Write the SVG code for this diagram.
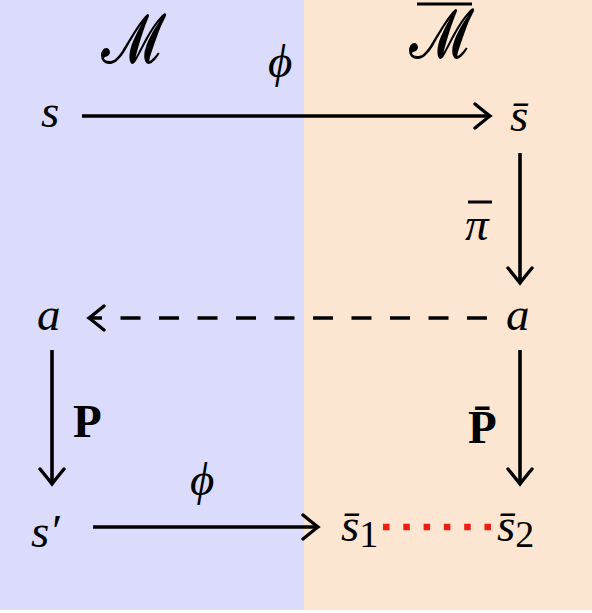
<svg xmlns="http://www.w3.org/2000/svg" width="592" height="613" viewBox="0 0 592 613">
<defs>
<style>
.m{font-family:"Liberation Serif","DejaVu Serif",serif;font-style:italic;font-size:47px;fill:#000}
.b{font-family:"Liberation Serif","DejaVu Serif",serif;font-weight:bold;font-size:47px;fill:#000}
.r{font-family:"Liberation Serif","DejaVu Serif",serif;font-size:38px;fill:#000}
.cal{font-family:"DejaVu Sans","DejaVu Serif","Noto Sans",serif;font-size:70px;fill:#000}
.ln{stroke:#000;stroke-width:3.6;fill:none}
.dash{stroke:#000;stroke-width:3.6;fill:none;stroke-dasharray:20 18.5}
.dot{stroke:#ee1f12;stroke-width:6.5;fill:none;stroke-dasharray:6.5 13.8}
.bar{stroke:#000;stroke-width:3;fill:none}
</style>
<marker id="ah" viewBox="-17 -14 20 28" refX="0" refY="0" markerUnits="userSpaceOnUse" markerWidth="20" markerHeight="28" orient="auto">
<path d="M-15 -12 Q-4 -3 0 0 Q-4 3 -15 12" fill="none" stroke="#000" stroke-width="3.4" stroke-linecap="round"/>
</marker>
</defs>
<rect x="0" y="0" width="304" height="610" fill="#dbdbfb"/>
<rect x="304" y="0" width="288" height="610" fill="#fde6d1"/>

<g id="connectors">
<path id="e-s-sbar" class="ln" d="M82 116 L490 116" marker-end="url(#ah)"/>
<path id="e-sbar-a" class="ln" d="M520 153 L520 283" marker-end="url(#ah)"/>
<path id="e-a-a" class="dash" d="M487 318 L89 318" marker-end="url(#ah)"/>
<path id="e-a-sp" class="ln" d="M52 350 L52 484" marker-end="url(#ah)"/>
<path id="e-abar-s2" class="ln" d="M520 350 L520 484" marker-end="url(#ah)"/>
<path id="e-sp-s1" class="ln" d="M93 527 L318 527" marker-end="url(#ah)"/>
<path id="e-s1-s2" class="dot" d="M383 527 L493 527"/>
</g>

<g id="label-M"><text class="cal" transform="translate(101 63) scale(0.76 1)">𝓜</text></g>
<g id="label-Mbar"><line class="bar" x1="417" y1="4" x2="472" y2="4"/><text class="cal" transform="translate(409 58) scale(0.76 1)">𝓜</text></g>

<g id="node-s"><text class="m" x="41" y="127">s</text></g>
<g id="node-sbar"><text class="m" x="510" y="131">s̄</text></g>
<g id="label-phi1"><text class="m" x="268" y="77">ϕ</text></g>
<g id="label-pibar"><line class="bar" x1="468" y1="202" x2="492" y2="202"/><text class="m" x="465" y="240">π</text></g>
<g id="node-a-right"><text class="m" x="506" y="330">a</text></g>
<g id="node-a-left"><text class="m" x="37" y="330">a</text></g>
<g id="label-P"><text class="b" x="73" y="437">P</text></g>
<g id="label-Pbar"><text class="b" x="468" y="443">P̄</text></g>
<g id="label-phi2"><text class="m" x="190" y="495">ϕ</text></g>
<g id="node-sprime"><text class="m" x="31" y="547">s′</text></g>
<g id="node-s1"><text class="m" x="341" y="541">s̄<tspan class="r" font-style="normal" dy="6">1</tspan></text></g>
<g id="node-s2"><text class="m" x="497" y="541">s̄<tspan class="r" font-style="normal" dy="6">2</tspan></text></g>
</svg>
